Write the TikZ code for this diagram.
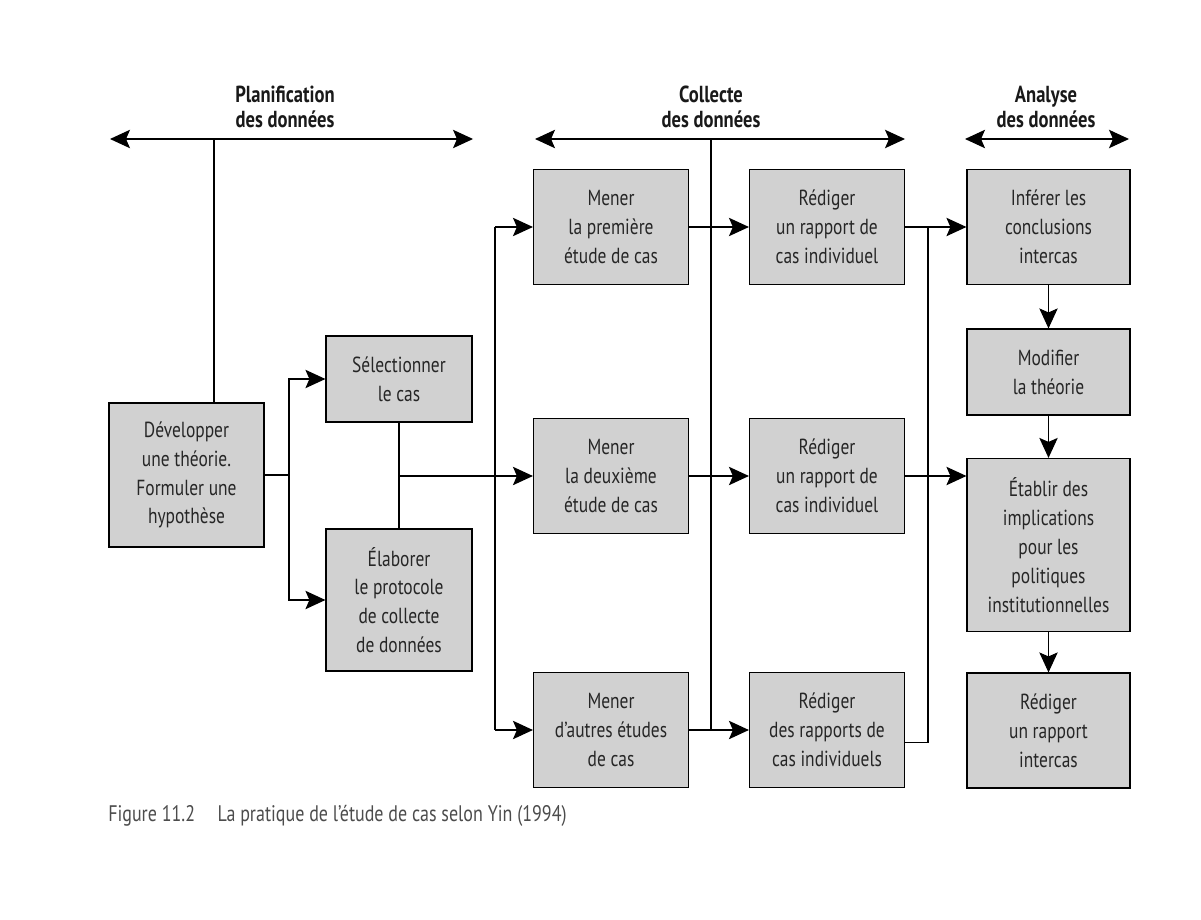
\documentclass[tikz,border=0pt]{standalone}
\usepackage{fontspec}
\setmainfont{PT Sans}[FakeStretch=0.8]
\usepackage{tikz}
\usetikzlibrary{arrows.meta}
\usetikzlibrary{calc}
\definecolor{fondgris}{gray}{0.82}
\tikzset{
  etape/.style={draw, fill=fondgris, align=center, inner sep=0pt, minimum width=3.875cm, minimum height=2.875cm, text=black!85, font=\fontsize{15.5}{20.5}\selectfont},
  phase/.style={align=center, text=black!90, font=\fontsize{16.5}{18}\selectfont\bfseries},
  fleche/.style={-{Stealth[length=5mm, width=4.6mm, inset=1mm]}},
  portee/.style={{Stealth[length=5mm, width=4.6mm, inset=1mm]}-{Stealth[length=5mm, width=4.6mm, inset=1mm]}}
}

\begin{document}
\begin{tikzpicture}[x=0.025cm, y=-0.025cm, line width=0.8pt]
  \useasboundingbox (0,0) rectangle (1201,919);

  \node[phase] (plan) at (285,107) {Planification\\des données};
  \node[phase] (coll) at (711,107) {Collecte\\des données};
  \node[phase] (anal) at (1046,107) {Analyse\\des données};

  \coordinate (plan-g) at (110,139);
  \coordinate (plan-d) at (473,139);
  \coordinate (plan-t) at (214,139);
  \coordinate (coll-g) at (535,139);
  \coordinate (coll-d) at (905,139);
  \coordinate (coll-t) at (711,139);
  \coordinate (anal-g) at (965,139);
  \coordinate (anal-d) at (1129,139);

  \node[etape, minimum height=3.6cm] (dev) at (186.5,475) {Développer\\une théorie.\\Formuler une\\hypothèse};
  \node[etape, minimum width=3.65cm, minimum height=2.15cm] (sel) at (399,379) {Sélectionner\\le cas};
  \node[etape, minimum width=3.65cm, minimum height=3.55cm] (elab) at (399,600) {Élaborer\\le protocole\\de collecte\\de données};

  \node[etape] (mener1) at (611,227) {Mener\\la première\\étude de cas};
  \node[etape] (mener2) at (611,476) {Mener\\la deuxième\\étude de cas};
  \node[etape] (mener3) at (611,730) {Mener\\d’autres études\\de cas};

  \node[etape] (red1) at (827,227) {Rédiger\\un rapport de\\cas individuel};
  \node[etape] (red2) at (827,476) {Rédiger\\un rapport de\\cas individuel};
  \node[etape] (red3) at (827,730) {Rédiger\\des rapports de\\cas individuels};

  \node[etape, minimum width=4.075cm] (inf) at (1048.5,227) {Inférer les\\conclusions\\intercas};
  \node[etape, minimum width=4.075cm, minimum height=2.15cm] (mod) at (1048.5,372) {Modifier\\la théorie};
  \node[etape, minimum width=4.075cm, minimum height=4.325cm] (etab) at (1048.5,545) {Établir des\\implications\\pour les\\politiques\\institutionnelles};
  \node[etape, minimum width=4.075cm] (ri) at (1048.5,730.5) {Rédiger\\un rapport\\intercas};

  \node[anchor=west, text=black!70, font=\fontsize{16}{18}\selectfont] (legende) at (103,816) {Figure 11.2\quad La pratique de l’étude de cas selon Yin (1994)};

  \draw[portee] (plan-g) -- (plan-d);
  \draw[portee] (coll-g) -- (coll-d);
  \draw[portee] (anal-g) -- (anal-d);
  \draw (plan-t) -- (plan-t |- dev.north);
  \draw (coll-t) -- (coll-t |- mener3.east);

  \coordinate (j1) at (289,475);
  \draw (dev.east |- j1) -- (j1);
  \draw[fleche] (j1) |- (sel.west);
  \draw[fleche] (j1) |- (elab.west);
  \draw (sel.south) -- (elab.north);
  \draw[fleche] (sel.south |- mener2.west) -- (mener2.west);

  \coordinate (gauche) at (495,475);
  \draw (gauche |- mener1.west) -- (gauche |- mener3.west);
  \draw[fleche] (gauche |- mener1.west) -- (mener1.west);
  \draw[fleche] (gauche |- mener3.west) -- (mener3.west);

  \draw[fleche] (mener1) -- (red1);
  \draw[fleche] (mener2) -- (red2);
  \draw[fleche] (mener3) -- (red3);

  \coordinate (droite) at (928,475);
  \draw[fleche] (red1.east) -- (inf.west);
  \draw[fleche] (red2.east) -- (red2.east -| etab.west);
  \draw ([yshift=-0.31cm]red3.east) -| (droite |- red1.east);

  \draw[fleche] (inf) -- (mod);
  \draw[fleche] (mod) -- (etab);
  \draw[fleche] (etab) -- (ri);
\end{tikzpicture}
\end{document}
